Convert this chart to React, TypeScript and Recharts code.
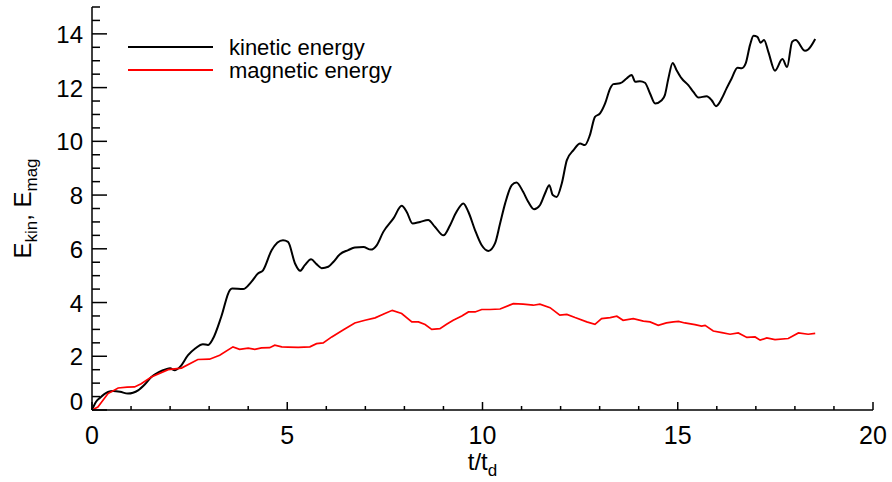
import React from "react";
import { LineChart, Line, XAxis, YAxis, Label } from "recharts";

const FONT = '"Liberation Sans", Arial, Helvetica, sans-serif';

// kinetic energy vs t/t_d
const kinTime = [
  0, 0.1, 0.2, 0.41, 0.54, 0.72, 0.92, 1.05, 1.18, 1.35, 1.52, 1.7, 1.9, 2.0, 2.12, 2.25, 2.46, 2.65, 2.84, 2.97,
  3.1, 3.31, 3.53, 3.59, 3.87, 4.08, 4.25, 4.38, 4.6, 4.89, 5.02, 5.2, 5.33, 5.45, 5.61, 5.75, 5.88, 6.05, 6.18, 6.35,
  6.56, 6.73, 6.95, 7.14, 7.29, 7.46, 7.72, 7.93, 8.06, 8.21, 8.4, 8.61, 8.78, 9.0, 9.17, 9.31, 9.51, 9.64, 9.81, 9.98,
  10.15, 10.32, 10.45, 10.58, 10.75, 10.87, 11.04, 11.17, 11.32, 11.47, 11.6, 11.71, 11.8, 11.9, 12.03, 12.16, 12.33,
  12.5, 12.62, 12.75, 12.88, 13.01, 13.14, 13.27, 13.35, 13.52, 13.69, 13.82, 13.91, 14.03, 14.16, 14.29, 14.42, 14.59,
  14.67, 14.76, 14.87, 14.97, 15.1, 15.27, 15.4, 15.53, 15.74, 15.87, 15.98, 16.13, 16.25, 16.38, 16.53, 16.64, 16.74,
  16.85, 16.94, 17.04, 17.12, 17.21, 17.32, 17.49, 17.68, 17.8, 17.93, 18.02, 18.26, 18.34, 18.52,
];
const kinEnergy = [
  0, 0.3, 0.45, 0.67, 0.71, 0.68, 0.61, 0.64, 0.73, 0.95, 1.23, 1.4, 1.52, 1.55, 1.48, 1.6, 2.04, 2.3, 2.45, 2.42,
  2.66, 3.47, 4.46, 4.52, 4.5, 4.77, 5.08, 5.2, 5.95, 6.32, 6.26, 5.45, 5.18, 5.39, 5.61, 5.43, 5.28, 5.33, 5.51, 5.8,
  5.95, 6.05, 6.07, 5.97, 6.13, 6.63, 7.13, 7.6, 7.37, 6.94, 7.0, 7.07, 6.82, 6.5, 6.88, 7.31, 7.69, 7.37, 6.69, 6.13,
  5.92, 6.2, 6.94, 7.69, 8.37, 8.47, 8.12, 7.75, 7.47, 7.62, 8.06, 8.37, 8.0, 7.93, 8.43, 9.3, 9.67,
  9.92, 9.86, 10.23, 10.91, 11.04, 11.41, 11.97, 12.13, 12.16, 12.34, 12.47, 12.22, 12.24, 12.18, 11.78, 11.41, 11.53,
  11.72, 12.34, 12.92, 12.65, 12.34, 12.09, 11.84, 11.63, 11.68, 11.53, 11.31, 11.6, 11.97, 12.34, 12.74, 12.72, 12.9,
  13.58, 13.93, 13.89, 13.67, 13.77, 13.33, 12.63, 13.06, 12.77, 13.71, 13.77, 13.37, 13.42, 13.81,
];

// magnetic energy vs t/t_d
const magTime = [
  0, 0.15, 0.41, 0.67, 0.9, 1.09, 1.26, 1.52, 1.95, 2.29, 2.71, 3.01, 3.27, 3.61, 3.78, 4.0, 4.17, 4.34, 4.55, 4.68,
  4.86, 5.02, 5.28, 5.58, 5.75, 5.92, 6.14, 6.44, 6.73, 6.99, 7.25, 7.5, 7.69, 7.93, 8.19, 8.36, 8.53, 8.7, 8.91, 9.08,
  9.25, 9.47, 9.64, 9.81, 9.98, 10.19, 10.45, 10.79, 11.04, 11.3, 11.47, 11.73, 11.98, 12.16, 12.37, 12.67, 12.88,
  13.05, 13.27, 13.44, 13.6, 13.86, 14.12, 14.29, 14.5, 14.71, 14.89, 15.02, 15.18, 15.44, 15.61, 15.7, 15.91, 16.13,
  16.34, 16.55, 16.77, 16.98, 17.11, 17.28, 17.49, 17.83, 18.09, 18.34, 18.52,
];
const magEnergy = [
  0, 0.11, 0.61, 0.82, 0.85, 0.86, 0.98, 1.23, 1.5, 1.56, 1.88, 1.89, 2.04, 2.35, 2.26, 2.3, 2.26, 2.31, 2.32, 2.41,
  2.35, 2.34, 2.33, 2.35, 2.47, 2.5, 2.72, 2.99, 3.24, 3.34, 3.43, 3.59, 3.71, 3.59, 3.28, 3.28, 3.18, 3.0, 3.03, 3.19,
  3.34, 3.5, 3.65, 3.65, 3.74, 3.74, 3.76, 3.96, 3.94, 3.9, 3.94, 3.81, 3.53, 3.56, 3.44, 3.28, 3.19,
  3.4, 3.44, 3.49, 3.34, 3.4, 3.31, 3.28, 3.15, 3.24, 3.28, 3.3, 3.24, 3.18, 3.12, 3.15, 2.94, 2.88,
  2.82, 2.87, 2.7, 2.72, 2.6, 2.68, 2.62, 2.66, 2.87, 2.82, 2.85,
];

// axis ticks: every value gets a tick mark, labels only on the major ones
const xTicks = Array.from({ length: 21 }, (_, i) => i);
const yTicks = Array.from({ length: 31 }, (_, i) => i / 2);
const xMajorStep = 5;
const yMajorStep = 2;

const kinData = kinTime.map((t, i) => ({ t, e: kinEnergy[i] }));
const magData = magTime.map((t, i) => ({ t, e: magEnergy[i] }));

const series = [
  { name: "kinetic energy", color: "#000000", data: kinData, width: 2, type: "monotone" as const },
  { name: "magnetic energy", color: "#ff0000", data: magData, width: 1.7, type: "linear" as const },
];

const AXIS = { stroke: "#000", strokeWidth: 1.5 };

function BottomTick({ x, y, payload }: any) {
  const v = payload.value;
  const major = v % xMajorStep === 0;
  return (
    <g>
      <line x1={x} x2={x} y1={y} y2={y - (major ? 8 : 4)} {...AXIS} />
      {major && (
        <text x={x} y={y + 34} textAnchor="middle" fontSize={25} fontFamily={FONT} fill="#000">
          {v}
        </text>
      )}
    </g>
  );
}

function TopTick({ x, y, payload }: any) {
  const major = payload.value % xMajorStep === 0;
  return <line x1={x} x2={x} y1={y} y2={y + (major ? 8 : 4)} {...AXIS} />;
}

function LeftTick({ x, y, payload }: any) {
  const v = payload.value;
  const major = v % yMajorStep === 0;
  return (
    <g>
      <line x1={x} x2={x + (major ? 15 : 8)} y1={y} y2={y} {...AXIS} />
      {major && (
        <text x={x - 9} y={v === 0 ? y : y + 9} textAnchor="end" fontSize={24} fontFamily={FONT} fill="#000">
          {v}
        </text>
      )}
    </g>
  );
}

function RightTick({ x, y, payload }: any) {
  const major = payload.value % yMajorStep === 0;
  return <line x1={x} x2={x - (major ? 15 : 8)} y1={y} y2={y} {...AXIS} />;
}

function XTitle({ viewBox }: any) {
  const cx = viewBox.x + viewBox.width / 2;
  return (
    <text x={cx} y={viewBox.y + 60} textAnchor="middle" fontSize={24} fontFamily={FONT} fill="#000">
      t/t
      <tspan fontSize={17} dy={6}>d</tspan>
    </text>
  );
}

function YTitle({ viewBox }: any) {
  const cx = 31;
  const cy = viewBox.y + viewBox.height / 2;
  return (
    <text
      x={cx}
      y={cy}
      transform={`rotate(-90 ${cx} ${cy})`}
      textAnchor="middle"
      fontSize={24}
      fontFamily={FONT}
      fill="#000"
    >
      E<tspan fontSize={17} dy={6}>kin</tspan>
      <tspan dy={-6}>, E</tspan>
      <tspan fontSize={17} dy={6}>mag</tspan>
    </text>
  );
}

// legend drawn as an overlay in the upper-left corner of the plot
function EnergyLegend() {
  return (
    <svg style={{ position: "absolute", left: 0, top: 0 }} width={892} height={100}>
      {series.map((s, i) => {
        const y = 47 + i * 23;
        return (
          <g key={s.name}>
            <line x1={128} x2={213} y1={y} y2={y} stroke={s.color} strokeWidth={2} />
            <text x={229} y={y + 8} fontSize={22} fontFamily={FONT} fill="#000">
              {s.name}
            </text>
          </g>
        );
      })}
    </svg>
  );
}

export default function App() {
  return (
    <div style={{ position: "absolute", left: 0, top: 0, width: 892, height: 482, background: "#fff" }}>
      <LineChart width={892} height={482} margin={{ top: 7, right: 19, bottom: 0, left: 0 }}>
        <XAxis
          xAxisId="top"
          orientation="top"
          type="number"
          dataKey="t"
          domain={[0, 20]}
          ticks={xTicks}
          interval={0}
          height={0}
          tickSize={0}
          tickMargin={0}
          tickLine={false}
          axisLine={AXIS}
          tick={<TopTick />}
        />
        <XAxis
          type="number"
          dataKey="t"
          domain={[0, 20]}
          ticks={xTicks}
          interval={0}
          height={72}
          tickSize={0}
          tickMargin={0}
          tickLine={false}
          axisLine={AXIS}
          tick={<BottomTick />}
          allowDuplicatedCategory={false}
        >
          <Label content={<XTitle />} />
        </XAxis>
        <YAxis
          type="number"
          domain={[0, 15]}
          ticks={yTicks}
          interval={0}
          width={92}
          tickSize={0}
          tickMargin={0}
          tickLine={false}
          axisLine={AXIS}
          tick={<LeftTick />}
        >
          <Label content={<YTitle />} />
        </YAxis>
        <YAxis
          yAxisId="right"
          orientation="right"
          type="number"
          domain={[0, 15]}
          ticks={yTicks}
          interval={0}
          width={0}
          tickSize={0}
          tickMargin={0}
          tickLine={false}
          axisLine={AXIS}
          tick={<RightTick />}
        />
        {series.map((s) => (
          <Line
            key={s.name}
            data={s.data}
            dataKey="e"
            type={s.type}
            stroke={s.color}
            strokeWidth={s.width}
            dot={false}
            activeDot={false}
            isAnimationActive={false}
          />
        ))}
      </LineChart>
      <EnergyLegend />
    </div>
  );
}
